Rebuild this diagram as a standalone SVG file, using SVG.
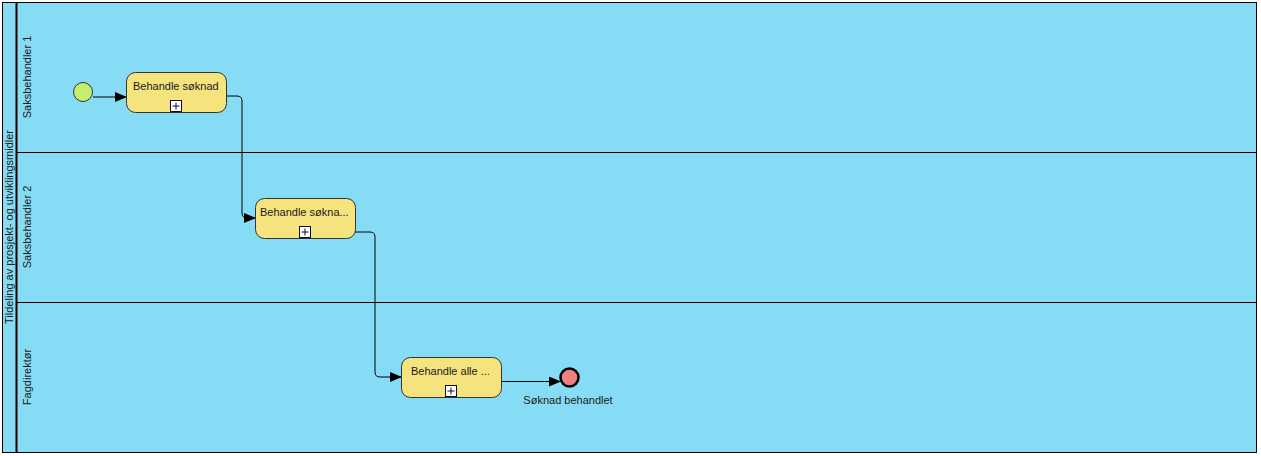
<svg xmlns="http://www.w3.org/2000/svg" width="1261" height="456" viewBox="0 0 1261 456">
<defs>
<style>
text{font-family:"Liberation Sans",Arial,sans-serif;font-size:11px;fill:#1a1a1a}
.task{fill:#F5E37E;stroke:#333;stroke-width:1}
.mk{fill:#fff;stroke:#111;stroke-width:1}
.conn{fill:none;stroke:#000;stroke-width:1}
.lane{fill:#87DCF5;stroke:#000;stroke-width:1}
</style>
<marker id="arr" markerWidth="12" markerHeight="10" refX="11" refY="5" orient="auto" markerUnits="userSpaceOnUse">
<path d="M0,0 L12,5 L0,10 z" fill="#000"/>
</marker>
</defs>
<g id="pool">
<rect x="2.5" y="2.5" width="1254" height="450" class="lane"/>
<line x1="16.5" y1="2.5" x2="16.5" y2="452.5" stroke="#000" stroke-width="2"/>
<line x1="17" y1="152.5" x2="1256.5" y2="152.5" stroke="#000"/>
<line x1="17" y1="302.5" x2="1256.5" y2="302.5" stroke="#000"/>
<text transform="translate(13,227) rotate(-90)" text-anchor="middle">Tildeling av prosjekt- og utviklingsmidler</text>
<text transform="translate(31,77) rotate(-90)" text-anchor="middle">Saksbehandler 1</text>
<text transform="translate(31,227) rotate(-90)" text-anchor="middle">Saksbehandler 2</text>
<text transform="translate(31,377) rotate(-90)" text-anchor="middle">Fagdirektør</text>
</g>
<g id="connectors">
<path class="conn" d="M93,97 L126,97" marker-end="url(#arr)"/>
<path class="conn" d="M227,96 L237,96 Q242,96 242,101 L242,213 Q242,218 247,218 L255,218" marker-end="url(#arr)"/>
<path class="conn" d="M355,232 L370,232 Q375,232 375,237 L375,372 Q375,377 380,377 L401,377" marker-end="url(#arr)"/>
<path class="conn" d="M501,381.5 L560,381.5" marker-end="url(#arr)"/>
</g>
<g id="start">
<circle cx="83" cy="92" r="9.5" fill="#C4EE6E" stroke="#333" stroke-width="1"/>
</g>
<g id="task1">
<rect x="126.5" y="72.5" width="100" height="40" rx="9" class="task"/>
<text x="133" y="90">Behandle søknad</text>
<rect x="170.5" y="100.5" width="11" height="11" class="mk"/>
<path d="M172.5,106 H179.5 M176,102.5 V109.5" stroke="#111" stroke-width="1"/>
</g>
<g id="task2">
<rect x="255.5" y="198.5" width="100" height="40" rx="9" class="task"/>
<text x="260" y="216">Behandle søkna...</text>
<rect x="299.5" y="226.5" width="11" height="11" class="mk"/>
<path d="M301.5,232 H308.5 M305,228.5 V235.5" stroke="#111" stroke-width="1"/>
</g>
<g id="task3">
<rect x="401.5" y="357.5" width="100" height="40" rx="9" class="task"/>
<text x="411" y="375">Behandle alle ...</text>
<rect x="445.5" y="385.5" width="11" height="11" class="mk"/>
<path d="M447.5,391 H454.5 M451,387.5 V394.5" stroke="#111" stroke-width="1"/>
</g>
<g id="end">
<circle cx="569.5" cy="377.5" r="9" fill="#F08080" stroke="#000" stroke-width="2.5"/>
<text x="568" y="404" text-anchor="middle">Søknad behandlet</text>
</g>
</svg>
